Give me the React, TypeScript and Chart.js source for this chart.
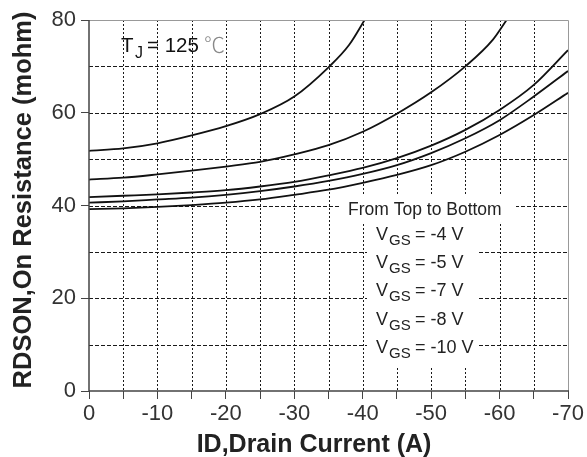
import React, { useEffect, useRef } from "react";
import { Chart, registerables } from "chart.js";

Chart.register(...registerables);

// Drain current magnitude (A) and RDS(on) (mohm) per gate voltage
const vgs4Current = [0, 5, 10, 15, 20, 25, 30, 35, 38, 40.6];
const vgs4Rdson = [51.8, 52.3, 53.4, 55.1, 57.1, 59.7, 63.5, 69.8, 74.6, 80.8];

const vgs5Current = [0, 5, 10, 15, 20, 25, 30, 35, 40, 45, 50, 55, 59, 61.3];
const vgs5Rdson = [45.6, 46.0, 46.7, 47.5, 48.4, 49.4, 51.0, 53.0, 55.9, 59.8, 64.4, 70.0, 75.7, 80.6];

const vgs7Current = [0, 5, 10, 15, 20, 25, 30, 35, 40, 45, 50, 55, 60, 65, 70];
const vgs7Rdson = [41.8, 42.1, 42.4, 42.8, 43.3, 44.1, 45.1, 46.5, 48.1, 50.2, 52.9, 56.3, 60.6, 66.0, 73.5];

const vgs8Current = [0, 5, 10, 15, 20, 25, 30, 35, 40, 45, 50, 55, 60, 65, 70];
const vgs8Rdson = [40.6, 40.9, 41.3, 41.7, 42.3, 43.1, 44.1, 45.3, 46.8, 48.7, 51.3, 54.5, 58.4, 63.5, 69.0];

const vgs10Current = [0, 5, 10, 15, 20, 25, 30, 35, 40, 45, 50, 55, 60, 65, 70];
const vgs10Rdson = [39.2, 39.4, 39.7, 40.1, 40.6, 41.3, 42.3, 43.4, 44.9, 46.6, 48.7, 51.6, 55.2, 59.5, 64.3];

const legendVoltages = ["-4 V", "-5 V", "-7 V", "-8 V", "-10 V"];
const xTickStep = 5;
const yTickStep = 10;

const FONT = '"Liberation Sans", Arial, sans-serif';

function toPoints(cur: number[], r: number[]) {
  return cur.map((c, i) => ({ x: -c, y: r[i] }));
}

const decorPlugin = {
  id: "decor",
  beforeDatasetsDraw(chart: any) {
    const { ctx, chartArea: a, scales } = chart;
    const xs = scales.x;
    const ys = scales.y;
    ctx.save();
    ctx.lineWidth = 1;
    ctx.strokeStyle = "#1a1a1a";
    // vertical dotted grid
    ctx.setLineDash([2, 2]);
    xs.ticks.forEach((t: any) => {
      if (t.value <= xs.min || t.value >= xs.max) return;
      const px = Math.round(xs.getPixelForValue(t.value)) + 0.5;
      ctx.beginPath();
      ctx.moveTo(px, a.top);
      ctx.lineTo(px, a.bottom);
      ctx.stroke();
    });
    // horizontal dashed grid
    ctx.setLineDash([4, 2]);
    ys.ticks.forEach((t: any) => {
      if (t.value <= ys.min || t.value >= ys.max) return;
      const py = Math.round(ys.getPixelForValue(t.value)) + 0.5;
      ctx.beginPath();
      ctx.moveTo(a.left, py);
      ctx.lineTo(a.right, py);
      ctx.stroke();
    });
    ctx.setLineDash([]);

    // white boxes behind annotation text
    ctx.fillStyle = "#fff";
    ctx.fillRect(340, 196, 176, 26);
    ctx.fillRect(367, 222, 112, 144);

    // annotation text
    ctx.fillStyle = "#222";
    ctx.textBaseline = "alphabetic";
    ctx.textAlign = "left";
    ctx.font = `17.5px ${FONT}`;
    ctx.fillText("From Top to Bottom", 348, 215);
    legendVoltages.forEach((v, i) => {
      const b = 240 + i * 28.2;
      ctx.font = `18px ${FONT}`;
      ctx.fillText("V", 376, b);
      ctx.font = `15px ${FONT}`;
      ctx.fillText("GS", 389, b + 5);
      ctx.font = `18px ${FONT}`;
      ctx.fillText("= " + v, 415, b);
    });

    // T_J label
    ctx.fillStyle = "#111";
    ctx.font = `20.5px ${FONT}`;
    ctx.fillText("T", 121, 52);
    ctx.font = `16px ${FONT}`;
    ctx.fillText("J", 135, 58);
    ctx.font = `20.5px ${FONT}`;
    ctx.fillText("= 125", 147, 52);
    ctx.fillStyle = "#888";
    ctx.font = `300 21px "Noto Sans CJK SC", sans-serif`;
    ctx.fillText("\u2103", 204, 52);
    ctx.restore();
  },
  afterDatasetsDraw(chart: any) {
    const { ctx, chartArea: a } = chart;
    ctx.save();
    // top and right frame
    ctx.strokeStyle = "#999";
    ctx.lineWidth = 1;
    ctx.beginPath();
    ctx.moveTo(a.left, a.top + 0.5);
    ctx.lineTo(a.right + 0.5, a.top + 0.5);
    ctx.lineTo(a.right + 0.5, a.bottom);
    ctx.stroke();
    // left and bottom axes
    ctx.strokeStyle = "#444";
    ctx.lineWidth = 1.5;
    ctx.beginPath();
    ctx.moveTo(a.left, a.top);
    ctx.lineTo(a.left, a.bottom);
    ctx.lineTo(a.right + 1, a.bottom);
    ctx.stroke();

    // axis titles
    ctx.fillStyle = "#222";
    ctx.textAlign = "center";
    ctx.textBaseline = "alphabetic";
    ctx.font = `bold 25px ${FONT}`;
    ctx.fillText("ID,Drain Current (A)", 314, 452);
    ctx.font = `bold 25.5px ${FONT}`;
    ctx.translate(31, 200);
    ctx.rotate(-Math.PI / 2);
    ctx.fillText("RDSON,On Resistance (mohm)", 0, 0);
    ctx.restore();
  },
};

export default function App() {
  const canvasRef = useRef<HTMLCanvasElement | null>(null);

  useEffect(() => {
    if (!canvasRef.current) return;
    const lineStyle = {
      borderColor: "#111",
      borderWidth: 1.8,
      pointRadius: 0,
      fill: false,
      cubicInterpolationMode: "monotone" as const,
    };
    const chart = new Chart(canvasRef.current, {
      type: "line",
      data: {
        datasets: [
          { label: "VGS=-4V", data: toPoints(vgs4Current, vgs4Rdson), ...lineStyle },
          { label: "VGS=-5V", data: toPoints(vgs5Current, vgs5Rdson), ...lineStyle },
          { label: "VGS=-7V", data: toPoints(vgs7Current, vgs7Rdson), ...lineStyle },
          { label: "VGS=-8V", data: toPoints(vgs8Current, vgs8Rdson), ...lineStyle },
          { label: "VGS=-10V", data: toPoints(vgs10Current, vgs10Rdson), ...lineStyle },
        ],
      },
      options: {
        animation: false,
        responsive: false,
        maintainAspectRatio: false,
        events: [],
        layout: { padding: { top: 20, right: 19, left: 0, bottom: 0 } },
        plugins: {
          legend: { display: false },
          tooltip: { enabled: false },
          title: { display: false },
        },
        scales: {
          x: {
            type: "linear",
            min: -70,
            max: 0,
            reverse: true,
            afterFit: (s: any) => {
              s.height = 66;
            },
            ticks: {
              stepSize: xTickStep,
              autoSkip: false,
              maxRotation: 0,
              padding: 2,
              color: "#333",
              font: { family: FONT, size: 22 },
              callback: (v: any) => (Number(v) % 10 === 0 ? String(Number(v) === 0 ? 0 : v) : ""),
            },
            grid: {
              drawOnChartArea: false,
              drawTicks: true,
              tickLength: 8,
              tickColor: "#444",
              tickWidth: 1,
            },
            border: { display: false },
          },
          y: {
            type: "linear",
            min: 0,
            max: 80,
            afterFit: (s: any) => {
              s.width = 89;
            },
            ticks: {
              stepSize: yTickStep,
              autoSkip: false,
              padding: 5,
              color: "#333",
              font: { family: FONT, size: 22 },
              callback: (v: any) => (Number(v) % 20 === 0 ? String(v) : ""),
            },
            grid: {
              drawOnChartArea: false,
              drawTicks: true,
              tickLength: 8,
              tickWidth: 1,
              tickColor: (c: any) => (c.tick && c.tick.value % 20 === 0 ? "#444" : "rgba(0,0,0,0)"),
            },
            border: { display: false },
          },
        },
      },
      plugins: [decorPlugin],
    });
    return () => chart.destroy();
  }, []);

  return (
    <div style={{ position: "absolute", left: 0, top: 0, width: 587, height: 457, background: "#fff" }}>
      <canvas ref={canvasRef} width={587} height={457} style={{ display: "block" }} />
    </div>
  );
}
